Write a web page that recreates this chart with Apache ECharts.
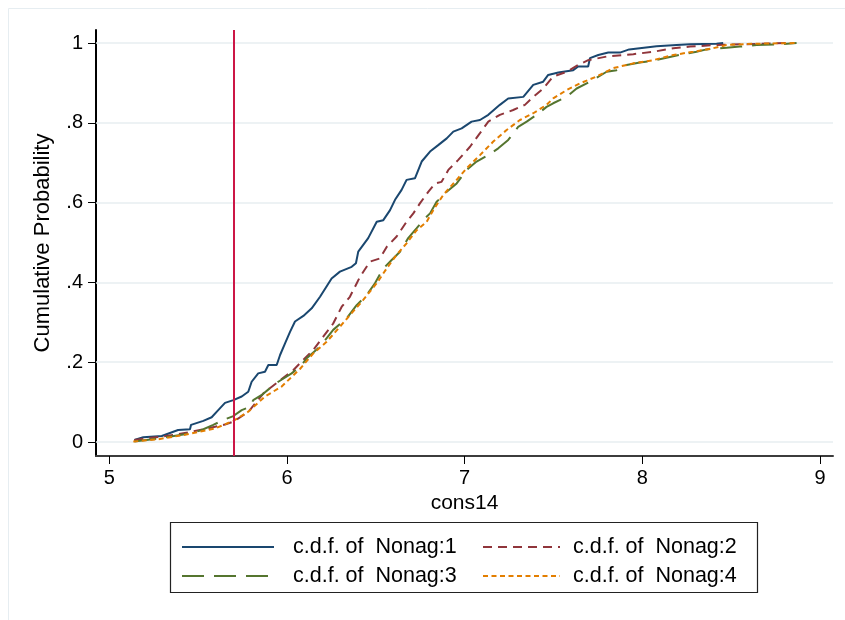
<!DOCTYPE html>
<html>
<head>
<meta charset="utf-8">
<script src="https://cdn.jsdelivr.net/npm/echarts@6/dist/echarts.min.js"></script>
<style>html,body{margin:0;padding:0;background:#fff;}#c{width:845px;height:620px;}</style>
</head>
<body>
<div id="c"></div>
<script>
// ---- data ----
const seriesNames = ['c.d.f. of  Nonag:1', 'c.d.f. of  Nonag:2', 'c.d.f. of  Nonag:3', 'c.d.f. of  Nonag:4'];
const xTicks = [5, 6, 7, 8, 9];
const yTicks = [0, 0.2, 0.4, 0.6, 0.8, 1];
const yTickLabels = ['0', '.2', '.4', '.6', '.8', '1'];
const xLineValue = 5.7;
const xTitle = 'cons14';
const yTitle = 'Cumulative Probability';

const nonag1 = [[5.141,0.005],[5.150,0.009],[5.191,0.012],[5.295,0.015],[5.387,0.030],[5.454,0.032],[5.460,0.043],[5.529,0.053],[5.576,0.062],[5.613,0.080],[5.651,0.098],[5.698,0.105],[5.745,0.114],[5.782,0.126],[5.801,0.151],[5.838,0.172],[5.876,0.176],[5.895,0.193],[5.942,0.193],[5.961,0.218],[5.989,0.247],[6.017,0.276],[6.045,0.302],[6.092,0.316],[6.139,0.335],[6.186,0.364],[6.251,0.410],[6.298,0.427],[6.364,0.439],[6.388,0.448],[6.401,0.477],[6.457,0.511],[6.505,0.552],[6.542,0.556],[6.580,0.581],[6.608,0.607],[6.645,0.632],[6.673,0.657],[6.720,0.661],[6.758,0.703],[6.805,0.728],[6.851,0.744],[6.899,0.761],[6.936,0.778],[6.983,0.786],[7.039,0.803],[7.086,0.807],[7.133,0.820],[7.198,0.845],[7.245,0.861],[7.330,0.865],[7.386,0.895],[7.442,0.903],[7.470,0.920],[7.527,0.926],[7.611,0.932],[7.639,0.941],[7.695,0.941],[7.705,0.962],[7.752,0.970],[7.808,0.976],[7.874,0.976],[7.926,0.984],[8.080,0.992],[8.193,0.995],[8.268,0.997],[8.418,0.998],[8.455,1.000]];
const nonag2 = [[5.141,0.005],[5.370,0.018],[5.464,0.026],[5.595,0.038],[5.651,0.044],[5.698,0.051],[5.782,0.075],[5.867,0.122],[6.035,0.180],[6.092,0.206],[6.148,0.231],[6.204,0.264],[6.260,0.297],[6.308,0.339],[6.354,0.364],[6.411,0.414],[6.467,0.452],[6.523,0.460],[6.561,0.489],[6.617,0.515],[6.673,0.552],[6.711,0.573],[6.748,0.598],[6.795,0.627],[6.833,0.648],[6.870,0.652],[6.908,0.682],[6.964,0.707],[7.030,0.740],[7.086,0.774],[7.133,0.803],[7.198,0.820],[7.273,0.832],[7.339,0.845],[7.386,0.865],[7.442,0.886],[7.498,0.916],[7.574,0.928],[7.639,0.945],[7.695,0.957],[7.799,0.966],[7.949,0.972],[8.061,0.978],[8.174,0.987],[8.268,0.991],[8.418,0.995],[8.587,0.997],[8.812,1.000]];
const nonag3 = [[5.141,0.001],[5.274,0.009],[5.464,0.022],[5.520,0.030],[5.585,0.043],[5.651,0.057],[5.698,0.065],[5.745,0.080],[5.792,0.088],[5.810,0.105],[5.858,0.118],[5.904,0.135],[5.951,0.151],[6.026,0.172],[6.083,0.193],[6.111,0.210],[6.186,0.239],[6.260,0.281],[6.336,0.310],[6.392,0.343],[6.448,0.368],[6.495,0.398],[6.542,0.435],[6.589,0.456],[6.636,0.477],[6.682,0.511],[6.730,0.536],[6.767,0.556],[6.805,0.573],[6.842,0.602],[6.899,0.627],[6.955,0.648],[7.011,0.682],[7.067,0.703],[7.133,0.719],[7.189,0.736],[7.245,0.757],[7.301,0.790],[7.349,0.803],[7.405,0.820],[7.461,0.840],[7.498,0.849],[7.574,0.865],[7.630,0.886],[7.705,0.903],[7.799,0.928],[7.855,0.932],[7.911,0.945],[7.986,0.951],[8.061,0.956],[8.174,0.967],[8.230,0.972],[8.305,0.978],[8.362,0.984],[8.474,0.988],[8.549,0.991],[8.643,0.995],[8.774,0.997],[8.868,1.000]];
const nonag4 = [[5.135,0.001],[5.276,0.007],[5.426,0.018],[5.595,0.034],[5.698,0.053],[5.782,0.076],[5.876,0.114],[5.970,0.139],[6.073,0.183],[6.148,0.222],[6.223,0.251],[6.298,0.289],[6.354,0.318],[6.429,0.356],[6.505,0.398],[6.561,0.435],[6.617,0.469],[6.673,0.498],[6.730,0.531],[6.786,0.552],[6.823,0.581],[6.879,0.619],[6.945,0.652],[7.011,0.686],[7.086,0.719],[7.161,0.753],[7.236,0.782],[7.311,0.807],[7.386,0.824],[7.461,0.845],[7.498,0.861],[7.574,0.882],[7.649,0.899],[7.743,0.916],[7.836,0.937],[7.949,0.949],[8.061,0.957],[8.174,0.970],[8.286,0.978],[8.399,0.987],[8.474,0.995],[8.624,0.998],[8.868,1.000]];

// ---- styles ----
const FONT = 'Liberation Sans, Arial, sans-serif';
const colors = ['#1a476f', '#90353b', '#55752f', '#e37e00'];
const dashes = ['solid', [9, 6], [22, 10], [5, 3.5]];
const allData = [nonag1, nonag2, nonag3, nonag4];

const chart = echarts.init(document.getElementById('c'), null, { renderer: 'canvas' });

const series = allData.map((d, i) => ({
  name: seriesNames[i],
  type: 'line',
  data: d,
  symbol: 'none',
  z: 3 + i,
  lineStyle: { color: colors[i], width: 2, type: dashes[i] },
  itemStyle: { color: colors[i] },
  emphasis: { disabled: true },
  animation: false
}));

// gridlines and the reference line as markLines
series.push({
  name: 'grid',
  type: 'line',
  data: [],
  silent: true,
  animation: false,
  markLine: {
    z: 1, silent: true, symbol: 'none', animation: false,
    label: { show: false },
    lineStyle: { color: '#e7eef1', width: 1.6, type: 'solid' },
    data: yTicks.map(v => ({ yAxis: v }))
  }
});
series.push({
  name: 'xline',
  type: 'line',
  data: [],
  silent: true,
  animation: false,
  markLine: {
    z: 10, silent: true, symbol: 'none', animation: false,
    label: { show: false },
    lineStyle: { color: '#cc1646', width: 2, type: 'solid' },
    data: [{ xAxis: xLineValue }]
  }
});

const legendCommon = {
  orient: 'vertical', top: 536, padding: 0,
  itemHeight: 14, itemGap: 7,
  itemStyle: { opacity: 0 },
  selectedMode: false
};

const option = {
  backgroundColor: '#ffffff',
  animation: false,
  grid: { left: 96, right: 12, top: 30, bottom: 164, containLabel: false },
  xAxis: {
    type: 'value',
    min: 4.925, max: 9.073,
    name: xTitle,
    nameLocation: 'middle',
    nameGap: 32,
    nameTextStyle: { fontFamily: FONT, fontSize: 21, color: '#000' },
    axisLine: { show: true, onZero: false, lineStyle: { color: '#3c3c3c', width: 2 } },
    axisTick: { show: true, length: 8, customValues: xTicks, lineStyle: { color: '#000', width: 1 } },
    axisLabel: { customValues: xTicks, margin: 12, fontFamily: FONT, fontSize: 20, color: '#000', formatter: v => String(v) },
    splitLine: { show: false }
  },
  yAxis: {
    type: 'value',
    min: -0.0351, max: 1.0326,
    name: yTitle,
    nameLocation: 'middle',
    nameGap: 42,
    nameRotate: 90,
    nameTextStyle: { fontFamily: FONT, fontSize: 22, color: '#000' },
    axisLine: { show: true, onZero: false, lineStyle: { color: '#000', width: 2 } },
    axisTick: { show: true, length: 8, customValues: yTicks, lineStyle: { color: '#000', width: 1 } },
    axisLabel: {
      customValues: yTicks, margin: 13, fontFamily: FONT, fontSize: 20, color: '#000',
      formatter: v => { const k = yTicks.findIndex(t => Math.abs(t - v) < 1e-6); return k >= 0 ? yTickLabels[k] : ''; }
    },
    splitLine: { show: false }
  },
  legend: [
    Object.assign({}, legendCommon, {
      data: [seriesNames[0], seriesNames[2]],
      left: 181, itemWidth: 92,
      textStyle: { fontFamily: FONT, fontSize: 21.5, color: '#000', padding: [0, 0, 0, 14] }
    }),
    Object.assign({}, legendCommon, {
      data: [seriesNames[1], seriesNames[3]],
      left: 482, itemWidth: 77,
      textStyle: { fontFamily: FONT, fontSize: 21.5, color: '#000', padding: [0, 0, 0, 8] }
    })
  ],
  graphic: [
    { type: 'rect', z: -10, silent: true, shape: { x: 8.5, y: 8.5, width: 850, height: 650 }, style: { fill: 'none', stroke: '#e6edf1', lineWidth: 1 } },
    { type: 'rect', z: 100, silent: true, shape: { x: 170.5, y: 522.5, width: 587, height: 70 }, style: { fill: 'none', stroke: '#222', lineWidth: 1.2 } }
  ],
  series: series
};
chart.setOption(option);
</script>
</body>
</html>
